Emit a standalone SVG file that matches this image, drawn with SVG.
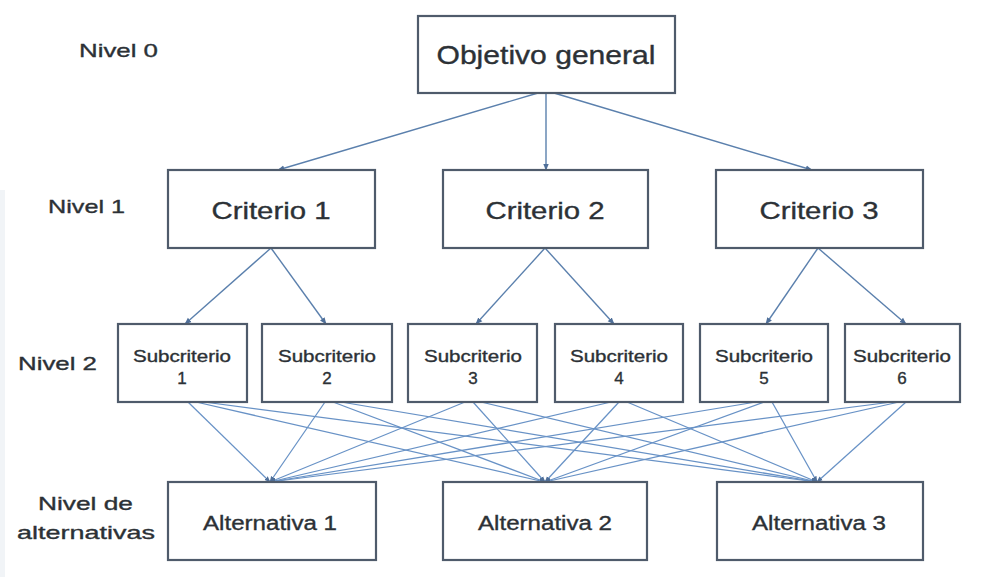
<svg xmlns="http://www.w3.org/2000/svg" width="983" height="577" viewBox="0 0 983 577">
  <defs>
    <style>
      .box { fill: #ffffff; stroke: #4f5b6b; stroke-width: 2.2; }
      .lbl { font-family: "Liberation Sans", Arial, sans-serif; fill: #2c3136; stroke: #2c3136; stroke-width: 0.35; }
      .ctr { text-anchor: middle; }
      .lvl { font-family: "Liberation Sans", Arial, sans-serif; fill: #2c3136; stroke: #2c3136; stroke-width: 0.35; font-size: 19px; }
      .edge { stroke: #5b80ad; stroke-width: 1.4; fill: none; marker-end: url(#tip); }
      .cross { stroke: #6892c6; stroke-width: 1.25; fill: none; marker-end: url(#tip); }
    </style>
    <marker id="tip" viewBox="0 0 10 10" refX="9" refY="5" markerWidth="5" markerHeight="5" orient="auto" markerUnits="strokeWidth">
      <path d="M0,1 L10,5 L0,9 z" fill="#4f6f99"/>
    </marker>
  </defs>

  <rect width="983" height="577" fill="#ffffff"/>
  <rect x="0" y="190" width="5" height="387" fill="#f1f4f7"/>

  <!-- level labels -->
  <g id="levels">
    <text class="lvl" x="79" y="57" textLength="79" lengthAdjust="spacingAndGlyphs">Nivel 0</text>
    <text class="lvl" x="48" y="213" textLength="77" lengthAdjust="spacingAndGlyphs">Nivel 1</text>
    <text class="lvl" x="18" y="370" textLength="79" lengthAdjust="spacingAndGlyphs">Nivel 2</text>
    <text class="lvl" x="38" y="510" textLength="95" lengthAdjust="spacingAndGlyphs">Nivel de</text>
    <text class="lvl" x="17" y="539" textLength="138" lengthAdjust="spacingAndGlyphs">alternativas</text>
  </g>

  <!-- connectors -->
  <g id="connectors">
    <line class="edge" x1="538" y1="93" x2="278" y2="170"/>
    <line class="edge" x1="546" y1="93" x2="546" y2="170"/>
    <line class="edge" x1="554" y1="93" x2="812" y2="170"/>

    <line class="edge" x1="271" y1="248" x2="185" y2="324"/>
    <line class="edge" x1="271" y1="248" x2="326" y2="324"/>
    <line class="edge" x1="545" y1="248" x2="476" y2="324"/>
    <line class="edge" x1="545" y1="248" x2="614" y2="324"/>
    <line class="edge" x1="818" y1="248" x2="766" y2="324"/>
    <line class="edge" x1="818" y1="248" x2="906" y2="324"/>

    <!-- every sub-criterion feeds every alternative -->
    <line class="cross" x1="188" y1="402" x2="270" y2="482"/>
    <line class="cross" x1="196" y1="402" x2="545" y2="482"/>
    <line class="cross" x1="204" y1="402" x2="817" y2="482"/>
    <line class="cross" x1="325" y1="402" x2="270" y2="482"/>
    <line class="cross" x1="333" y1="402" x2="545" y2="482"/>
    <line class="cross" x1="341" y1="402" x2="817" y2="482"/>
    <line class="cross" x1="465" y1="402" x2="270" y2="482"/>
    <line class="cross" x1="473" y1="402" x2="545" y2="482"/>
    <line class="cross" x1="481" y1="402" x2="817" y2="482"/>
    <line class="cross" x1="611" y1="402" x2="270" y2="482"/>
    <line class="cross" x1="619" y1="402" x2="545" y2="482"/>
    <line class="cross" x1="627" y1="402" x2="817" y2="482"/>
    <line class="cross" x1="756" y1="402" x2="270" y2="482"/>
    <line class="cross" x1="764" y1="402" x2="545" y2="482"/>
    <line class="cross" x1="772" y1="402" x2="817" y2="482"/>
    <line class="cross" x1="892" y1="402" x2="270" y2="482"/>
    <line class="cross" x1="899" y1="402" x2="545" y2="482"/>
    <line class="cross" x1="906" y1="402" x2="817" y2="482"/>
  </g>

  <!-- level 0 -->
  <g id="objetivo">
    <rect class="box" x="418" y="16" width="257" height="77"/>
    <text class="lbl ctr" x="546" y="64" font-size="25" textLength="219" lengthAdjust="spacingAndGlyphs">Objetivo general</text>
  </g>

  <!-- level 1 -->
  <g id="criterio1">
    <rect class="box" x="168" y="170" width="207" height="78"/>
    <text class="lbl ctr" x="271" y="219" font-size="24" textLength="119" lengthAdjust="spacingAndGlyphs">Criterio 1</text>
  </g>
  <g id="criterio2">
    <rect class="box" x="443" y="170" width="205" height="78"/>
    <text class="lbl ctr" x="545" y="219" font-size="24" textLength="119" lengthAdjust="spacingAndGlyphs">Criterio 2</text>
  </g>
  <g id="criterio3">
    <rect class="box" x="716" y="170" width="207" height="78"/>
    <text class="lbl ctr" x="819" y="219" font-size="24" textLength="119" lengthAdjust="spacingAndGlyphs">Criterio 3</text>
  </g>

  <!-- level 2 -->
  <g id="sub1">
    <rect class="box" x="118" y="324" width="129" height="78"/>
    <text class="lbl ctr" x="182" y="362" font-size="16" textLength="98" lengthAdjust="spacingAndGlyphs">Subcriterio</text>
    <text class="lbl ctr" x="182" y="384" font-size="17">1</text>
  </g>
  <g id="sub2">
    <rect class="box" x="262" y="324" width="130" height="78"/>
    <text class="lbl ctr" x="327" y="362" font-size="16" textLength="98" lengthAdjust="spacingAndGlyphs">Subcriterio</text>
    <text class="lbl ctr" x="327" y="384" font-size="17">2</text>
  </g>
  <g id="sub3">
    <rect class="box" x="408" y="324" width="129" height="78"/>
    <text class="lbl ctr" x="473" y="362" font-size="16" textLength="98" lengthAdjust="spacingAndGlyphs">Subcriterio</text>
    <text class="lbl ctr" x="473" y="384" font-size="17">3</text>
  </g>
  <g id="sub4">
    <rect class="box" x="555" y="324" width="128" height="78"/>
    <text class="lbl ctr" x="619" y="362" font-size="16" textLength="98" lengthAdjust="spacingAndGlyphs">Subcriterio</text>
    <text class="lbl ctr" x="619" y="384" font-size="17">4</text>
  </g>
  <g id="sub5">
    <rect class="box" x="700" y="324" width="128" height="78"/>
    <text class="lbl ctr" x="764" y="362" font-size="16" textLength="98" lengthAdjust="spacingAndGlyphs">Subcriterio</text>
    <text class="lbl ctr" x="764" y="384" font-size="17">5</text>
  </g>
  <g id="sub6">
    <rect class="box" x="845" y="324" width="115" height="78"/>
    <text class="lbl ctr" x="902" y="362" font-size="16" textLength="98" lengthAdjust="spacingAndGlyphs">Subcriterio</text>
    <text class="lbl ctr" x="902" y="384" font-size="17">6</text>
  </g>

  <!-- alternatives -->
  <g id="alt1">
    <rect class="box" x="168" y="482" width="208" height="78"/>
    <text class="lbl ctr" x="270" y="530" font-size="20" textLength="134" lengthAdjust="spacingAndGlyphs">Alternativa 1</text>
  </g>
  <g id="alt2">
    <rect class="box" x="443" y="482" width="204" height="78"/>
    <text class="lbl ctr" x="545" y="530" font-size="20" textLength="134" lengthAdjust="spacingAndGlyphs">Alternativa 2</text>
  </g>
  <g id="alt3">
    <rect class="box" x="717" y="482" width="206" height="78"/>
    <text class="lbl ctr" x="819" y="530" font-size="20" textLength="134" lengthAdjust="spacingAndGlyphs">Alternativa 3</text>
  </g>
</svg>
